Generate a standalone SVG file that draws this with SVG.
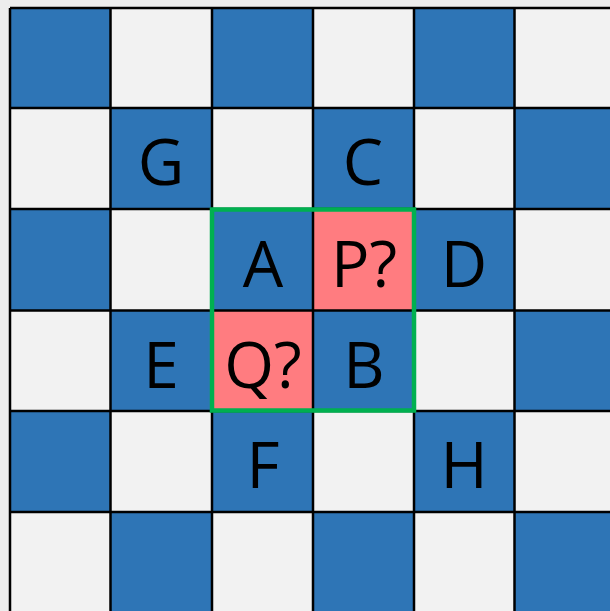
<svg xmlns="http://www.w3.org/2000/svg" width="610" height="611" viewBox="0 0 610 611">
<style>
.b{fill:#2E75B6}
.w{fill:#F2F2F2}
.p{fill:#FF7C80}
.t{font-family:"Open Sans","Noto Sans",sans-serif;font-size:64px;fill:#000;text-anchor:middle;dominant-baseline:central}
.g{stroke:#000;stroke-width:2.5;fill:none}
</style>
<rect width="610" height="611" fill="#EDEDED"/>
<g id="board">
<rect class="b" x="10" y="8" width="101" height="100"/>
<rect class="w" x="111" y="8" width="101" height="100"/>
<rect class="b" x="212" y="8" width="101" height="100"/>
<rect class="w" x="313" y="8" width="101" height="100"/>
<rect class="b" x="414" y="8" width="101" height="100"/>
<rect class="w" x="515" y="8" width="101" height="100"/>
<rect class="w" x="10" y="108" width="101" height="101"/>
<rect class="b" x="111" y="108" width="101" height="101"/>
<rect class="w" x="212" y="108" width="101" height="101"/>
<rect class="b" x="313" y="108" width="101" height="101"/>
<rect class="w" x="414" y="108" width="101" height="101"/>
<rect class="b" x="515" y="108" width="101" height="101"/>
<rect class="b" x="10" y="209" width="101" height="101"/>
<rect class="w" x="111" y="209" width="101" height="101"/>
<rect class="b" x="212" y="209" width="101" height="101"/>
<rect class="p" x="313" y="209" width="101" height="101"/>
<rect class="b" x="414" y="209" width="101" height="101"/>
<rect class="w" x="515" y="209" width="101" height="101"/>
<rect class="w" x="10" y="310" width="101" height="101"/>
<rect class="b" x="111" y="310" width="101" height="101"/>
<rect class="p" x="212" y="310" width="101" height="101"/>
<rect class="b" x="313" y="310" width="101" height="101"/>
<rect class="w" x="414" y="310" width="101" height="101"/>
<rect class="b" x="515" y="310" width="101" height="101"/>
<rect class="b" x="10" y="411" width="101" height="101"/>
<rect class="w" x="111" y="411" width="101" height="101"/>
<rect class="b" x="212" y="411" width="101" height="101"/>
<rect class="w" x="313" y="411" width="101" height="101"/>
<rect class="b" x="414" y="411" width="101" height="101"/>
<rect class="w" x="515" y="411" width="101" height="101"/>
<rect class="w" x="10" y="512" width="101" height="101"/>
<rect class="b" x="111" y="512" width="101" height="101"/>
<rect class="w" x="212" y="512" width="101" height="101"/>
<rect class="b" x="313" y="512" width="101" height="101"/>
<rect class="w" x="414" y="512" width="101" height="101"/>
<rect class="b" x="515" y="512" width="101" height="101"/>
<path class="g" d="M10 8V613M110.5 8V613M212 8V613M313 8V613M414 8V613M514.5 8V613M10 8H612M10 108H612M10 209H612M10 310.5H612M10 411H612M10 512H612"/>
</g>
<rect id="highlight" x="212" y="209.5" width="202" height="201" fill="none" stroke="#00B050" stroke-width="4.5"/>
<g id="labels">
<text class="t" x="161" y="160">G</text>
<text class="t" x="363" y="160">C</text>
<text class="t" x="263" y="262">A</text>
<text class="t" x="364" y="262">P?</text>
<text class="t" x="464" y="262">D</text>
<text class="t" x="161" y="363">E</text>
<text class="t" x="263" y="363">Q?</text>
<text class="t" x="364" y="363">B</text>
<text class="t" x="263" y="463">F</text>
<text class="t" x="464" y="463">H</text>
</g>
</svg>
